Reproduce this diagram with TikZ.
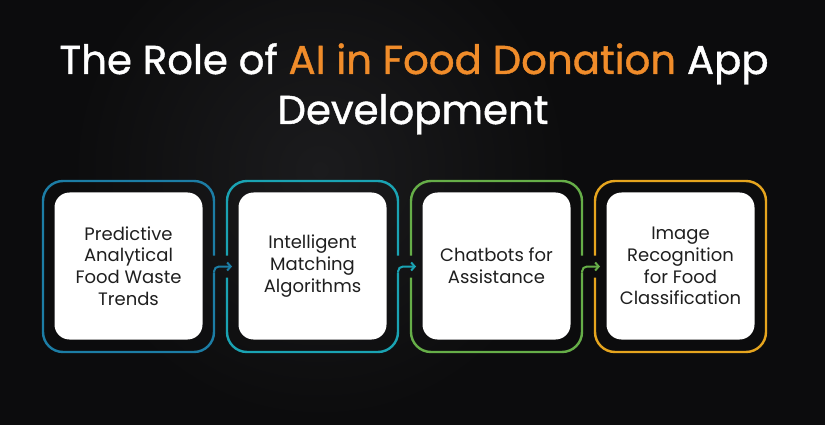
\documentclass[tikz,border=0pt]{standalone}
\usepackage{fontspec}
\setmainfont{Poppins}
\newfontfamily\headfont{Poppins}[FakeBold=1]
\usepackage{tikz}
\usetikzlibrary{arrows.meta}

\definecolor{bgdark}{HTML}{0C0C0D}
\definecolor{bglight}{HTML}{1B1B1D}
\definecolor{titleorange}{HTML}{F08C2A}
\definecolor{stepblue}{HTML}{1C7DA5}
\definecolor{stepteal}{HTML}{1AA3B3}
\definecolor{stepgreen}{HTML}{66AE48}
\definecolor{stepgold}{HTML}{E6A51E}
\definecolor{cardtext}{HTML}{1F1F1F}

\tikzset{
  slot/.style={minimum width=171pt,minimum height=171pt,inner sep=0pt,outer sep=0pt},
  card/.style={fill=white,rounded corners=15pt,minimum width=148pt,minimum height=147pt,
    align=center,text=cardtext,font=\fontsize{18}{21.7}\selectfont},
  ring/.style={line width=2.4pt,rounded corners=20pt},
  link/.style={->,>={Straight Barb[length=3.5pt,width=8pt]},line width=2pt,rounded corners=5pt},
  headline/.style={white,anchor=base,font=\headfont\fontsize{40.3}{50}\selectfont},
}

\begin{document}
\begin{tikzpicture}[x=1pt,y=-1pt]
\useasboundingbox (0,0) rectangle (825,425);
\fill[bgdark] (0,0) rectangle (825,425);
\begin{scope}
\clip (0,0) rectangle (825,425);
\shade[inner color=bglight,outer color=bgdark] (320,170) circle (250pt);
\end{scope}

\node[headline] (t1) at (414,74) {The Role of {\color{titleorange}AI in Food Donation} App};
\node[headline] (t2) at (413,124) {Development};

\node[slot] (f1) at (128.5,266.5) {};
\node[slot] (f2) at (312.5,266.5) {};
\node[slot] (f3) at (496.5,266.5) {};
\node[slot] (f4) at (680.5,266.5) {};

\node[card] (b1) at (128.5,266) {Predictive\\Analytical\\Food Waste\\Trends};
\node[card] (b2) at (312.5,266) {Intelligent\\Matching\\Algorithms};
\node[card] (b3) at (496.5,266) {Chatbots for\\Assistance};
\node[card] (b4) at (680.5,266) {Image\\Recognition\\for Food\\Classification};

% outlines, open where the arrows pass
\draw[ring,stepblue] ([yshift=11pt]f1.east) |- (f1.north) -| (f1.west) |- (f1.south) -| ([yshift=-6pt]f1.east);
\draw[ring,stepteal] ([yshift=11pt]f2.east) |- (f2.north) -| ([yshift=11pt]f2.west);
\draw[ring,stepteal] ([yshift=-11pt]f2.west) |- (f2.south) -| ([yshift=-6pt]f2.east);
\draw[ring,stepgreen] ([yshift=11pt]f3.east) |- (f3.north) -| ([yshift=11pt]f3.west);
\draw[ring,stepgreen] ([yshift=-11pt]f3.west) |- (f3.south) -| ([yshift=-6pt]f3.east);
\draw[ring,stepgold] ([yshift=11pt]f4.west) |- (f4.north) -| (f4.east) |- (f4.south) -| ([yshift=-11pt]f4.west);

\draw[link,stepblue] ([yshift=-6pt]f1.east) -- (f1.east) -- ([xshift=5pt]f2.west);
\draw[link,stepteal] ([yshift=-6pt]f2.east) -- (f2.east) -- ([xshift=5pt]f3.west);
\draw[link,stepgreen] ([yshift=-6pt]f3.east) -- (f3.east) -- ([xshift=5pt]f4.west);
\end{tikzpicture}
\end{document}
